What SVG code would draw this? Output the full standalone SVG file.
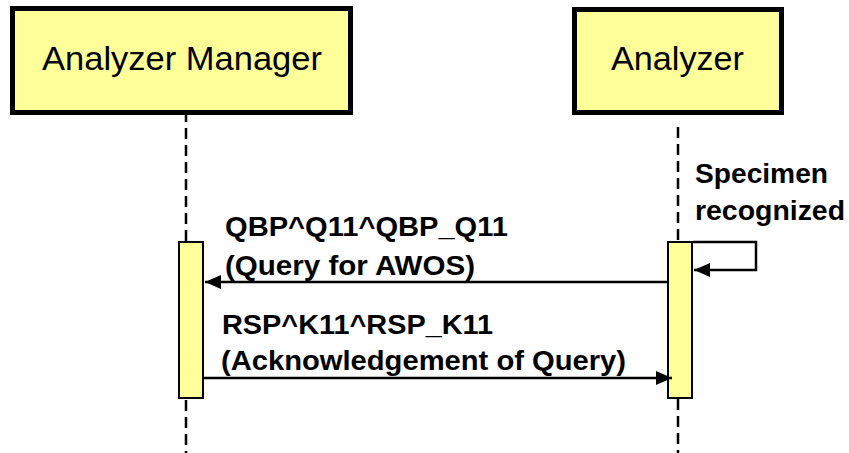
<svg xmlns="http://www.w3.org/2000/svg" width="849" height="453" viewBox="0 0 849 453">
<defs>
<style>
.actor{fill:#FFFF99;stroke:#000;stroke-width:5}
.act{fill:#FFFF99;stroke:#000;stroke-width:2}
.life{stroke:#000;stroke-width:2.5;stroke-dasharray:11 6;fill:none}
.msg{stroke:#000;stroke-width:2.5;fill:none}
.title{font-family:"Liberation Sans",Arial,sans-serif;font-size:33px;fill:#000}
.lbl{font-family:"Liberation Sans",Arial,sans-serif;font-size:27px;font-weight:bold;fill:#000}
</style>
<marker id="ah" markerUnits="userSpaceOnUse" markerWidth="17" markerHeight="15" refX="16" refY="7" orient="auto">
<path d="M0,0 L16,7 L0,14 Z" fill="#000"/>
</marker>
</defs>
<rect width="849" height="453" fill="#fff"/>
<g id="lifelines">
<line class="life" x1="186" y1="111" x2="186" y2="453"/>
<line class="life" x1="678" y1="127" x2="678" y2="453"/>
</g>
<g id="analyzer-manager">
<rect class="actor" x="12.5" y="8.5" width="338" height="104"/>
<text class="title" x="42" y="70" textLength="280" lengthAdjust="spacingAndGlyphs">Analyzer Manager</text>
</g>
<g id="analyzer">
<rect class="actor" x="574.5" y="9.5" width="207" height="103"/>
<text class="title" x="611" y="70" textLength="133" lengthAdjust="spacingAndGlyphs">Analyzer</text>
</g>
<g id="activation-manager">
<rect class="act" x="179" y="242" width="24" height="156"/>
</g>
<g id="activation-analyzer">
<rect class="act" x="668" y="242" width="24" height="156"/>
</g>
<g id="connectors">
<polyline class="msg" points="693,242 756,242 756,270 694,270" marker-end="url(#ah)"/>
<line class="msg" x1="667" y1="282" x2="205" y2="282" marker-end="url(#ah)"/>
<line class="msg" x1="204" y1="378" x2="672" y2="378" marker-end="url(#ah)"/>
</g>
<g id="labels">
<text class="lbl" x="695" y="183" textLength="133" lengthAdjust="spacingAndGlyphs">Specimen</text>
<text class="lbl" x="695" y="220" textLength="150" lengthAdjust="spacingAndGlyphs">recognized</text>
<text class="lbl" x="225" y="236" textLength="283" lengthAdjust="spacingAndGlyphs">QBP^Q11^QBP_Q11</text>
<text class="lbl" x="225" y="275" textLength="250" lengthAdjust="spacingAndGlyphs">(Query for AWOS)</text>
<text class="lbl" x="222" y="334" textLength="271" lengthAdjust="spacingAndGlyphs">RSP^K11^RSP_K11</text>
<text class="lbl" x="221" y="370" textLength="405" lengthAdjust="spacingAndGlyphs">(Acknowledgement of Query)</text>
</g>
</svg>
